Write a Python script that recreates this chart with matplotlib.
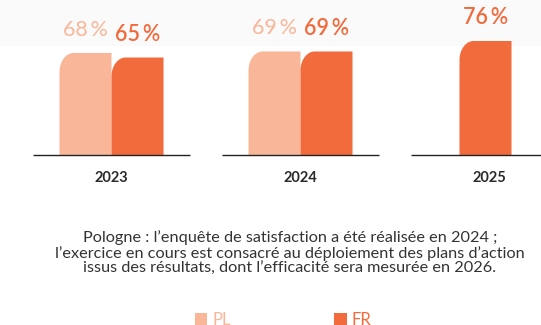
import numpy as np
import matplotlib.pyplot as plt
from matplotlib.path import Path
from matplotlib.patches import PathPatch, Patch, Rectangle

plt.rcParams['font.family'] = ['Lato', 'DejaVu Sans']

years = ['2023', '2024', '2025']
pl_values = [68, 69, None]
fr_values = [65, 69, 76]
series_names = ['PL', 'FR']

pl_color = '#F9B698'
fr_color = '#F26B3C'
text_dark = '#333333'

note = ("Pologne : l\u2019enquête de satisfaction a été réalisée en 2024 ;\n"
        "l\u2019exercice en cours est consacré au déploiement des plans d\u2019action\n"
        "issus des résultats, dont l\u2019efficacité sera mesurée en 2026.")

W, H = 541, 325
fig = plt.figure(figsize=(W / 100, H / 100), dpi=100)
ax = fig.add_axes([0, 0, 1, 1])

# 1 group = 189 px, 1 % = 1.5 px, baseline 170 px above the bottom edge
px_x = 189.0
px_y = 1.5
ax.set_xlim(-111.5 / px_x, (W - 111.5) / px_x)
ax.set_ylim(-170 / px_y, (H - 170) / px_y)
ax.axis('off')

# faint band behind the value labels
fig.patches.append(Rectangle((0, 1 - 46 / H), 1, 46 / H, transform=fig.transFigure,
                             facecolor='#fafafa', edgecolor='none', zorder=-1))

bar_w = 52 / px_x
rx = 14 / px_x
ry = 19 / px_y
k = 0.55


def rounded_bar(x0, h, color):
    # bar with only the top-left corner rounded
    x1 = x0 + bar_w
    verts = [(x0, 0), (x1, 0), (x1, h), (x0 + rx, h),
             (x0 + rx * (1 - k), h), (x0, h - ry * (1 - k)), (x0, h - ry),
             (x0, 0)]
    codes = [Path.MOVETO, Path.LINETO, Path.LINETO, Path.LINETO,
             Path.CURVE4, Path.CURVE4, Path.CURVE4, Path.CLOSEPOLY]
    ax.add_patch(PathPatch(Path(verts, codes), facecolor=color,
                           edgecolor='none', zorder=2))


for i, year in enumerate(years):
    ax.plot([i - 78.5 / px_x, i + 78.5 / px_x], [0, 0], color='#222222',
            lw=1.0, zorder=3, solid_capstyle='butt')
    ax.text(i, -23 / px_y, year, ha='center', va='center', fontsize=10.5,
            fontweight='bold', color='#2a2a2a')

    pl, fr = pl_values[i], fr_values[i]
    if pl is not None:
        rounded_bar(i - bar_w, pl, pl_color)
        ax.text(i - bar_w / 2, pl + 15.5, f'{pl}\u2009%', ha='center',
                va='center', fontsize=15.5, color=pl_color, zorder=4)
        fr_x = i
    else:
        fr_x = i - bar_w / 2 - 4 / px_x
    rounded_bar(fr_x, fr, fr_color)
    ax.text(fr_x + bar_w / 2, fr + 15.5, f'{fr}\u2009%', ha='center',
            va='center', fontsize=15.5, color=fr_color, fontweight='semibold',
            zorder=4)

fig.text(290 / W, 1 - 253 / H, note, ha='center', va='center',
         multialignment='center', fontsize=11.7, color=text_dark,
         linespacing=1.13)

handles = [Patch(facecolor=pl_color, edgecolor='none'),
           Patch(facecolor=fr_color, edgecolor='none')]
fig.legend(handles, series_names, loc='center', ncol=2,
           bbox_to_anchor=(283 / W, 5 / H), bbox_transform=fig.transFigure,
           frameon=False, fontsize=12, handlelength=0.75, handleheight=0.75,
           handletextpad=0.3, columnspacing=6.2,
           labelcolor=[pl_color, fr_color])

fig.savefig('out.png', dpi=100)
